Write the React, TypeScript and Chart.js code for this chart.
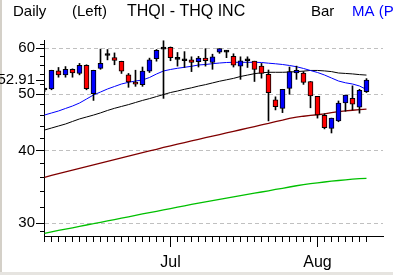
import React, { useEffect, useRef } from 'react';
import { Chart, registerables } from 'chart.js';

Chart.register(...registerables);

// ---- data ----
const opens = [50.85, 51.07, 54.84, 54.0, 55.2, 54.3, 56.1, 50.1, 55.4, 58.3, 57.8, 56.95, 54.0, 52.2, 51.95, 54.8, 57.6, 59.8, 60.2, 57.4, 57.1, 57.3, 56.9, 57.7, 56.7, 59.1, 59.1, 58.1, 55.9, 57.1, 57.0, 55.9, 54.1, 48.9, 47.3, 51.2, 54.4, 54.4, 52.6, 49.6, 46.0, 43.7, 45.0, 48.3, 49.2, 47.5, 50.5];
const highs = [51.2, 55.0, 55.6, 55.8, 55.3, 56.5, 56.2, 55.0, 59.8, 59.7, 58.9, 57.0, 54.3, 55.0, 55.7, 57.7, 59.7, 61.8, 60.3, 59.0, 59.2, 58.0, 58.1, 59.9, 58.6, 59.9, 59.5, 58.7, 58.0, 58.0, 57.0, 56.5, 55.05, 49.5, 51.0, 55.7, 55.9, 54.7, 52.6, 49.6, 46.3, 45.5, 48.7, 49.85, 51.7, 51.0, 53.2];
const lows = [50.5, 50.9, 53.5, 53.5, 53.5, 54.0, 50.9, 48.8, 55.2, 57.3, 56.2, 54.3, 51.4, 51.6, 51.6, 54.5, 57.0, 49.2, 57.1, 55.9, 55.6, 54.7, 55.7, 55.9, 55.2, 58.8, 57.8, 55.7, 53.05, 55.6, 52.6, 53.3, 45.0, 47.0, 46.5, 50.0, 53.05, 52.0, 47.4, 45.5, 43.6, 42.9, 44.85, 46.75, 47.0, 46.4, 50.35];
const closes = [50.85, 55.0, 54.0, 55.2, 54.4, 56.1, 51.1, 55.0, 56.5, 58.3, 57.2, 54.8, 52.5, 52.05, 54.8, 57.3, 59.5, 59.8, 57.8, 57.4, 57.1, 56.7, 57.7, 57.1, 58.0, 59.9, 59.1, 56.1, 57.1, 57.1, 55.2, 54.3, 50.3, 47.6, 51.0, 54.7, 54.95, 52.4, 49.7, 46.1, 43.8, 45.5, 48.3, 49.85, 48.1, 50.8, 52.91];

const maBlue = [46.06, 46.43, 46.8, 47.27, 47.73, 48.3, 49.07, 49.86, 50.45, 51.06, 51.57, 52.08, 52.43, 52.7, 52.91, 53.44, 54.18, 54.83, 55.16, 55.42, 55.64, 55.86, 56.15, 56.26, 56.44, 56.59, 56.71, 56.75, 56.75, 56.75, 56.75, 56.71, 56.55, 56.42, 56.26, 56.04, 55.77, 55.38, 54.94, 54.51, 53.97, 53.33, 52.7, 52.33, 52.08, 51.67, 50.96];
const maBlack = [43.4, 43.75, 44.1, 44.45, 44.9, 45.35, 45.7, 46.05, 46.45, 46.9, 47.3, 47.65, 48.0, 48.4, 48.8, 49.15, 49.55, 49.95, 50.35, 50.65, 51.0, 51.3, 51.65, 51.95, 52.3, 52.65, 52.95, 53.25, 53.65, 53.95, 54.25, 54.45, 54.55, 54.55, 54.55, 54.6, 54.7, 54.8, 54.95, 54.95, 54.85, 54.7, 54.4, 54.3, 54.2, 54.05, 53.95];
const maRed = [36.0, 36.26, 36.52, 36.77, 37.03, 37.28, 37.54, 37.8, 38.07, 38.33, 38.6, 38.86, 39.14, 39.4, 39.68, 39.95, 40.22, 40.51, 40.78, 41.04, 41.3, 41.57, 41.83, 42.1, 42.36, 42.63, 42.9, 43.18, 43.45, 43.73, 44.01, 44.29, 44.55, 44.87, 45.12, 45.44, 45.66, 45.84, 45.98, 46.11, 46.26, 46.48, 46.68, 46.81, 46.94, 47.05, 47.15];
const maGreen = [28.84, 29.0, 29.16, 29.31, 29.47, 29.63, 29.8, 29.95, 30.12, 30.29, 30.45, 30.62, 30.78, 30.95, 31.13, 31.3, 31.46, 31.64, 31.81, 31.99, 32.15, 32.33, 32.5, 32.67, 32.82, 32.98, 33.15, 33.31, 33.47, 33.63, 33.8, 33.96, 34.12, 34.3, 34.46, 34.64, 34.81, 34.97, 35.11, 35.22, 35.33, 35.44, 35.54, 35.64, 35.74, 35.81, 35.85];

const monthTickIndex = [18, 39];
const monthLabels = ['Jul', 'Aug'];
const yTickValues = [30, 40, 50, 60];
const lastPrice = 52.91;
const yMinorTicks = [29, 32, 34, 36, 38, 42, 44, 46, 48, 52, 54, 56, 58, 61];
const titleTexts = ['Daily', '(Left)', 'THQI - THQ INC', 'Bar', 'MA (P'];

const FONT = '"Liberation Sans", Arial, sans-serif';

const decorPlugin = {
  id: 'decor',
  beforeDraw(chart: any) {
    const ctx = chart.ctx;
    ctx.save();
    ctx.fillStyle = '#ffffff';
    ctx.fillRect(0, 0, chart.width, chart.height);
    ctx.fillStyle = '#d4d0c8';
    ctx.fillRect(0, 0, 2, chart.height);
    ctx.fillStyle = '#e6e4e0';
    ctx.fillRect(0, 272, chart.width, 3);
    ctx.restore();
  },
  afterDraw(chart: any) {
    const ctx = chart.ctx;
    const xs = chart.scales.x;
    const ys = chart.scales.y;
    const area = chart.chartArea;
    ctx.save();
    ctx.strokeStyle = '#000';
    ctx.lineWidth = 1;
    ctx.beginPath();
    for (let i = 0; i < closes.length; i++) {
      const px = Math.floor(xs.getPixelForValue(i)) + 0.5;
      ctx.moveTo(px, area.bottom);
      ctx.lineTo(px, area.bottom + 6);
    }
    for (const v of yMinorTicks) {
      const py = Math.floor(ys.getPixelForValue(v)) + 0.5;
      ctx.moveTo(area.left - 4, py);
      ctx.lineTo(area.left, py);
    }
    ctx.stroke();

    ctx.textBaseline = 'alphabetic';
    ctx.textAlign = 'left';
    const xPos = [13, 72, 127, 311, 352];
    titleTexts.forEach((t, k) => {
      ctx.font = (k === 2 ? '16px ' : '15px ') + FONT;
      ctx.fillStyle = k === 4 ? '#0000ff' : '#000000';
      ctx.fillText(t, xPos[k], 16);
    });
    ctx.restore();
  },
};

export default function App() {
  const ref = useRef<HTMLCanvasElement | null>(null);

  useEffect(() => {
    if (!ref.current) return;
    const idx = closes.map((_, i) => i);
    const isDoji = (i: number) => Math.abs(opens[i] - closes[i]) < 0.01;

    const chart = new Chart(ref.current, {
      type: 'bar',
      data: {
        datasets: [
          {
            type: 'bar',
            label: 'body',
            data: idx.map((i) => ({ x: i, y: [opens[i], closes[i]] })) as any,
            backgroundColor: idx.map((i) => (isDoji(i) ? '#000000' : closes[i] >= opens[i] ? '#0000ff' : '#ff0000')),
            borderColor: '#000000',
            borderWidth: 1,
            borderSkipped: false,
            barThickness: 5,
            minBarLength: 2,
            grouped: false,
            order: 0,
          } as any,
          {
            type: 'bar',
            label: 'wick',
            data: idx.map((i) => ({ x: i, y: [lows[i], highs[i]] })) as any,
            backgroundColor: '#000000',
            borderWidth: 0,
            barThickness: 1,
            grouped: false,
            order: 1,
          } as any,
          {
            type: 'line',
            label: 'MA1',
            data: idx.map((i) => ({ x: i, y: maBlue[i] })),
            borderColor: '#0000ff',
            borderWidth: 1,
            pointRadius: 0,
            order: 2,
          } as any,
          {
            type: 'line',
            label: 'MA2',
            data: idx.map((i) => ({ x: i, y: maBlack[i] })),
            borderColor: '#000000',
            borderWidth: 1,
            pointRadius: 0,
            order: 3,
          } as any,
          {
            type: 'line',
            label: 'MA3',
            data: idx.map((i) => ({ x: i, y: maRed[i] })),
            borderColor: '#800000',
            borderWidth: 1.3,
            pointRadius: 0,
            order: 4,
          } as any,
          {
            type: 'line',
            label: 'MA4',
            data: idx.map((i) => ({ x: i, y: maGreen[i] })),
            borderColor: '#00c000',
            borderWidth: 1.3,
            pointRadius: 0,
            order: 5,
          } as any,
        ],
      },
      options: {
        responsive: false,
        animation: false,
        devicePixelRatio: 1,
        layout: { padding: { left: 0, top: 40, right: 10, bottom: 0 } },
        plugins: { legend: { display: false }, tooltip: { enabled: false }, title: { display: false } },
        scales: {
          x: {
            type: 'linear',
            min: -1 / 14,
            max: 48.36,
            offset: false,
            afterFit: (s: any) => {
              s.height = 39;
            },
            afterBuildTicks: (s: any) => {
              s.ticks = monthTickIndex.map((v) => ({ value: v }));
            },
            grid: {
              display: true,
              drawOnChartArea: false,
              drawTicks: true,
              tickLength: 11,
              tickColor: '#000000',
              color: '#000000',
              offset: false,
            },
            border: { display: true, color: '#000000', width: 1 },
            ticks: {
              autoSkip: false,
              maxRotation: 0,
              padding: 6,
              color: '#000000',
              font: { family: FONT, size: 16 },
              callback: (v: any) => {
                const k = monthTickIndex.indexOf(Number(v));
                return k >= 0 ? monthLabels[k] : '';
              },
            },
          },
          y: {
            type: 'logarithmic',
            position: 'left',
            min: 28.53,
            max: 61.99,
            afterFit: (s: any) => {
              s.width = 44;
            },
            afterBuildTicks: (s: any) => {
              s.ticks = [...yTickValues, lastPrice].map((v) => ({ value: v }));
            },
            grid: {
              display: true,
              drawOnChartArea: true,
              drawTicks: true,
              tickLength: 8,
              tickColor: '#000000',
              color: (c: any) => (c.tick && c.tick.value === lastPrice ? 'rgba(0,0,0,0)' : '#c0c0c0'),
            },
            border: { display: true, color: '#000000', width: 1, dash: [4, 3] },
            ticks: {
              padding: 1,
              color: '#000000',
              font: { family: FONT, size: 15 },
              callback: (v: any) => (Number(v) === lastPrice ? lastPrice.toFixed(2) : String(v)),
            },
          },
        },
      },
      plugins: [decorPlugin],
    } as any);

    return () => chart.destroy();
  }, []);

  return (
    <div style={{ position: 'absolute', left: 0, top: 0, width: 393, height: 275, background: '#fff' }}>
      <canvas ref={ref} width={393} height={275} style={{ display: 'block', width: 393, height: 275 }} />
    </div>
  );
}
